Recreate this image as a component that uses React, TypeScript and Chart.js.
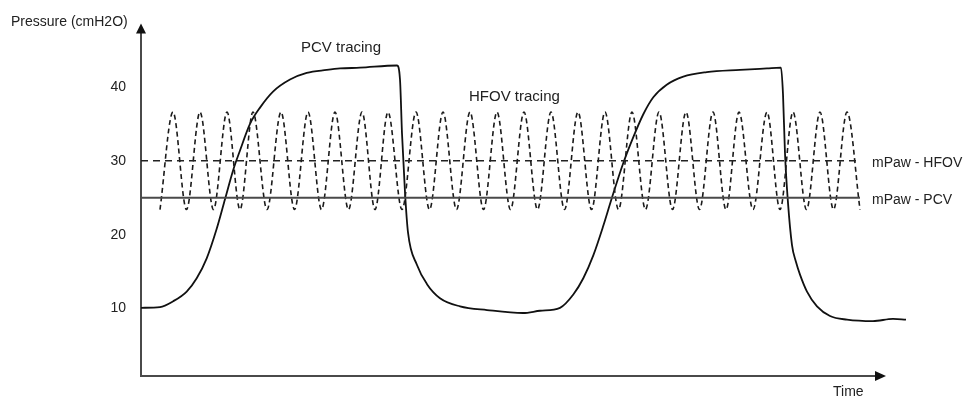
import React, { useEffect, useRef } from "react";
import { Chart, registerables } from "chart.js";

Chart.register(...registerables);

// ---- data (time in arbitrary units, pressure in cmH2O) ----
const Y_TICKS = [10, 20, 30, 40];
const Y_MIN = 0.87;
const Y_MAX = 48.6;
const X_MIN = 0;
const X_MAX = 77.5;
const X_AXIS_END = 74.5;

const PCV_TIME = [
  0, 1.9, 3.23, 4.57, 5.57, 6.57, 7.57, 8.4, 9.23, 9.9, 10.9, 11.9, 13.23, 14.9, 16.57,
  18.57, 19.9, 21.9, 25.6,
  25.9, 26.1, 26.4, 26.7, 27.6, 28.6, 29.9, 31.9, 34.6, 38.2, 39.9, 41.9, 43.23, 44.23,
  45.23, 46.23, 47.07, 48.23, 49.23, 50.23, 51.23, 52.57, 54.23, 56.57, 59.9, 62.6, 64.0,
  64.2, 64.4, 64.7, 65.1, 65.5, 65.9, 66.6, 67.6, 68.9, 70.6, 73.2, 75.2, 76.5,
];
const PCV_PRESSURE = [
  10.1, 10.2, 11.0, 12.3, 14.1, 16.8, 20.8, 24.8, 28.8, 31.4, 35.0, 37.2, 39.4, 41.0, 41.9,
  42.3, 42.5, 42.6, 42.9,
  41.0, 33.7, 25.7, 20.3, 15.9, 13.3, 11.4, 10.3, 9.8, 9.4, 9.7, 10.1, 11.9, 14.1,
  17.2, 21.2, 24.9, 29.7, 33.2, 36.3, 38.6, 40.3, 41.4, 42.0, 42.3, 42.5, 42.6,
  39.0, 31.0, 24.3, 18.6, 16.3, 14.6, 12.3, 10.3, 9.0, 8.5, 8.3, 8.6, 8.5,
];

const HFOV_TIME = [
  1.9, 3.2, 4.55, 5.9, 7.25, 8.6, 9.9, 11.2, 12.6, 14.0, 15.35, 16.7, 18.05, 19.4,
  20.75, 22.1, 23.4, 24.7, 26.1, 27.5, 28.85, 30.2, 31.55, 32.9, 34.25, 35.6, 36.95,
  38.3, 39.65, 41.0, 42.35, 43.7, 45.05, 46.4, 47.75, 49.1, 50.45, 51.8, 53.15, 54.5,
  55.85, 57.2, 58.5, 59.8, 61.2, 62.6, 63.9, 65.2, 66.55, 67.9, 69.25, 70.6, 71.9,
];
const HFOV_PRESSURE = [
  23.4, 36.6, 23.4, 36.6, 23.4, 36.6, 23.4, 36.6, 23.4, 36.6, 23.4, 36.6, 23.4, 36.6,
  23.4, 36.6, 23.4, 36.6, 23.4, 36.6, 23.4, 36.6, 23.4, 36.6, 23.4, 36.6, 23.4,
  36.6, 23.4, 36.6, 23.4, 36.6, 23.4, 36.6, 23.4, 36.6, 23.4, 36.6, 23.4, 36.6,
  23.4, 36.6, 23.4, 36.6, 23.4, 36.6, 23.4, 36.6, 23.4, 36.6, 23.4, 36.6, 23.4,
];

const MPAW_TIME = [0, 71.9];
const MPAW_HFOV = [30, 30];
const MPAW_PCV = [25, 25];

const LABELS = [
  { text: "PCV tracing", t: 16.0, p: 45.3, size: 15 },
  { text: "HFOV tracing", t: 32.8, p: 38.7, size: 15 },
  { text: "mPaw - HFOV", t: 73.1, p: 29.7, size: 14 },
  { text: "mPaw - PCV", t: 73.1, p: 24.7, size: 14 },
  { text: "Time", t: 69.2, p: -1.3, size: 14 },
  { text: "Pressure (cmH2O)", t: -13.0, p: 48.75, size: 14 },
];

const FONT = "'Liberation Sans', Arial, Helvetica, sans-serif";
const TEXT_COLOR = "#222";
const AXIS_COLOR = "#4a4a4a";

const toPoints = (xs: number[], ys: number[]) => xs.map((x, i) => ({ x, y: ys[i] }));

const decorations = {
  id: "decorations",
  beforeDatasetsDraw(chart: any) {
    const { ctx, chartArea, scales } = chart;
    const x0 = chartArea.left;
    const y0 = chartArea.bottom;
    const top = chartArea.top;
    const xEnd = scales.x.getPixelForValue(X_AXIS_END);
    ctx.save();
    ctx.strokeStyle = AXIS_COLOR;
    ctx.lineWidth = 2;
    ctx.beginPath();
    ctx.moveTo(x0, y0 + 1);
    ctx.lineTo(x0, top + 9);
    ctx.stroke();
    ctx.beginPath();
    ctx.moveTo(x0, y0);
    ctx.lineTo(xEnd - 9, y0);
    ctx.stroke();
    ctx.fillStyle = "#111";
    ctx.beginPath();
    ctx.moveTo(x0, top);
    ctx.lineTo(x0 - 5, top + 10);
    ctx.lineTo(x0 + 5, top + 10);
    ctx.closePath();
    ctx.fill();
    ctx.beginPath();
    ctx.moveTo(xEnd, y0);
    ctx.lineTo(xEnd - 11, y0 - 5);
    ctx.lineTo(xEnd - 11, y0 + 5);
    ctx.closePath();
    ctx.fill();
    ctx.restore();
  },
  afterDraw(chart: any) {
    const { ctx, scales } = chart;
    ctx.save();
    ctx.fillStyle = TEXT_COLOR;
    ctx.textAlign = "left";
    ctx.textBaseline = "middle";
    for (const l of LABELS) {
      ctx.font = `${l.size}px ${FONT}`;
      ctx.fillText(l.text, scales.x.getPixelForValue(l.t), scales.y.getPixelForValue(l.p));
    }
    ctx.restore();
  },
};

export default function App() {
  const ref = useRef<HTMLCanvasElement | null>(null);

  useEffect(() => {
    document.body.style.margin = "0";
    if (!ref.current) return;
    const chart = new Chart(ref.current, {
      type: "line",
      data: {
        datasets: [
          {
            label: "mPaw - PCV",
            data: toPoints(MPAW_TIME, MPAW_PCV),
            borderColor: "#4a4a4a",
            borderWidth: 2,
            pointRadius: 0,
          },
          {
            label: "mPaw - HFOV",
            data: toPoints(MPAW_TIME, MPAW_HFOV),
            borderColor: "#222",
            borderWidth: 1.6,
            borderDash: [7, 5],
            pointRadius: 0,
          },
          {
            label: "HFOV tracing",
            data: toPoints(HFOV_TIME, HFOV_PRESSURE),
            borderColor: "#1a1a1a",
            borderWidth: 1.6,
            borderDash: [5, 3.5],
            pointRadius: 0,
            cubicInterpolationMode: "monotone",
          },
          {
            label: "PCV tracing",
            data: toPoints(PCV_TIME, PCV_PRESSURE),
            borderColor: "#111",
            borderWidth: 1.8,
            pointRadius: 0,
            cubicInterpolationMode: "monotone",
          },
        ],
      },
      options: {
        animation: false,
        responsive: true,
        maintainAspectRatio: false,
        layout: { padding: { left: 0, right: 53, top: 18, bottom: 26 } },
        plugins: { legend: { display: false }, tooltip: { enabled: false } },
        scales: {
          x: { type: "linear", min: X_MIN, max: X_MAX, display: false },
          y: {
            type: "linear",
            min: Y_MIN,
            max: Y_MAX,
            grid: { display: false, drawTicks: false },
            border: { display: false },
            afterBuildTicks: (scale: any) => {
              scale.ticks = Y_TICKS.map((v) => ({ value: v }));
            },
            afterFit: (scale: any) => {
              scale.width = 141;
            },
            ticks: {
              padding: 15,
              color: TEXT_COLOR,
              font: { family: FONT, size: 14 },
            },
          },
        },
      },
      plugins: [decorations],
    });
    return () => chart.destroy();
  }, []);

  return (
    <div style={{ position: "relative", width: 969, height: 402, background: "#fff" }}>
      <canvas ref={ref} />
    </div>
  );
}
